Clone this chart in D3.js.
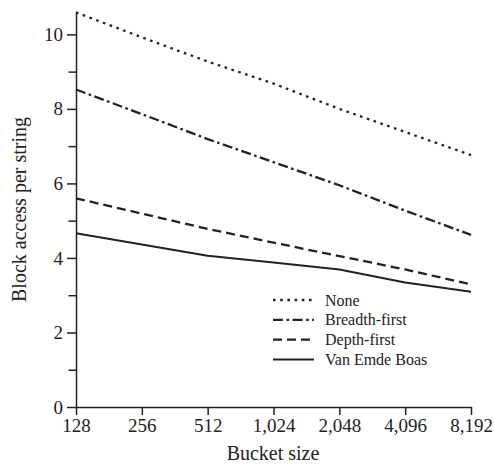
<!DOCTYPE html>
<html>
<head>
<meta charset="utf-8">
<script src="https://cdn.jsdelivr.net/npm/d3@7"></script>
<style>
  html, body { margin: 0; padding: 0; background: #fff; }
  svg { display: block; }
  text { font-family: "Liberation Serif", "DejaVu Serif", serif; fill: #222; }
</style>
</head>
<body>
<svg id="chart" width="494" height="464"></svg>
<script>
// Bucket sizes along the x axis (log2 spaced)
const bucketSizes = [128, 256, 512, 1024, 2048, 4096, 8192];

// Block accesses per string for each layout
const noneValues      = [10.59, 9.92, 9.27, 8.68, 8.00, 7.38, 6.76];
const breadthValues   = [8.52, 7.86, 7.19, 6.57, 5.95, 5.27, 4.62];
const depthValues     = [5.60, 5.19, 4.78, 4.41, 4.05, 3.69, 3.29];
const vanEmdeValues   = [4.66, 4.36, 4.06, 3.88, 3.69, 3.34, 3.09];

const seriesNames = ["None", "Breadth-first", "Depth-first", "Van Emde Boas"];
const yTickValues = [0, 1, 2, 3, 4, 5, 6, 7, 8, 9, 10];

const series = [
  { name: seriesNames[0], values: noneValues,    dash: "2.6,4.6",          width: 2.3 },
  { name: seriesNames[1], values: breadthValues, dash: "10,3.5,2.6,3.5",   width: 2.3 },
  { name: seriesNames[2], values: depthValues,   dash: "9,5",              width: 2.3 },
  { name: seriesNames[3], values: vanEmdeValues, dash: null,               width: 2.0 }
];

const svg = d3.select("#chart");
const ink = "#222";

const x = d3.scaleLog().base(2).domain([128, 8192]).range([76, 471]);
const y = d3.scaleLinear().domain([0, 10.6]).range([407, 12]);

// Y axis: labelled even ticks and shorter unlabelled odd ticks
const yAxisG = svg.append("g").attr("transform", `translate(${x.range()[0]},0)`);
yAxisG.call(
  d3.axisLeft(y)
    .tickValues(yTickValues.filter(v => v % 2 === 0))
    .tickSize(9).tickSizeOuter(0).tickPadding(4)
    .tickFormat(d3.format("d"))
);
svg.append("g").attr("transform", `translate(${x.range()[0]},0)`)
  .call(d3.axisLeft(y).tickValues(yTickValues.filter(v => v % 2 === 1))
    .tickSize(7.5).tickSizeOuter(0).tickFormat(""))
  .select(".domain").remove();

// X axis
const xAxisG = svg.append("g").attr("transform", `translate(0,${y(0)})`);
xAxisG.call(
  d3.axisBottom(x)
    .tickValues(bucketSizes)
    .tickSize(8).tickSizeOuter(0).tickPadding(4)
    .tickFormat(d3.format(","))
);

svg.selectAll(".domain, .tick line").attr("stroke", ink).attr("stroke-width", 1.5);
svg.selectAll(".tick text")
  .attr("font-family", "Liberation Serif, serif")
  .attr("font-size", 19).attr("fill", ink);

// Axis titles
svg.append("text")
  .attr("x", (x.range()[0] + x.range()[1]) / 2 - 0.5)
  .attr("y", 460)
  .attr("text-anchor", "middle")
  .attr("font-size", 20)
  .text("Bucket size");

svg.append("text")
  .attr("transform", `translate(25.5,${(y.range()[0] + y.range()[1]) / 2}) rotate(-90)`)
  .attr("text-anchor", "middle")
  .attr("font-size", 20)
  .text("Block access per string");

// Series lines
const line = d3.line()
  .x((d, i) => x(bucketSizes[i]))
  .y(d => y(d));

svg.append("g").selectAll("path")
  .data(series)
  .join("path")
  .attr("d", d => line(d.values))
  .attr("fill", "none")
  .attr("stroke", ink)
  .attr("stroke-width", d => d.width)
  .attr("stroke-dasharray", d => d.dash)
  .attr("stroke-linejoin", "round");

// Legend
const legend = svg.append("g").attr("transform", "translate(273,300)");
const rows = legend.selectAll("g")
  .data(series)
  .join("g")
  .attr("transform", (d, i) => `translate(0,${i * 19.8})`);
rows.append("line")
  .attr("x1", 0).attr("x2", 41)
  .attr("y1", 0).attr("y2", 0)
  .attr("stroke", ink)
  .attr("stroke-width", d => d.width)
  .attr("stroke-dasharray", d => d.dash);
rows.append("text")
  .attr("x", 52)
  .attr("y", 5.5)
  .attr("font-size", 16)
  .text(d => d.name);
</script>
</body>
</html>
